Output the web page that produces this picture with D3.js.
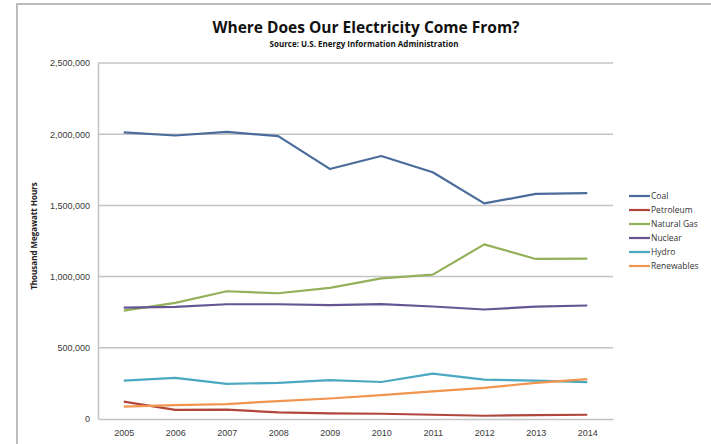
<!DOCTYPE html>
<html>
<head>
<meta charset="utf-8">
<script src="https://cdn.jsdelivr.net/npm/d3@7"></script>
<style>
  html, body { margin: 0; padding: 0; background: #fff; }
  svg { display: block; font-family: "Open Sans", "Liberation Sans", sans-serif; }
</style>
</head>
<body>
<svg id="chart" width="711" height="444"></svg>
<script>
// US net electricity generation by source, thousand MWh
const years = ["2005", "2006", "2007", "2008", "2009", "2010", "2011", "2012", "2013", "2014"];
const coal        = [2013000, 1991000, 2016000, 1986000, 1756000, 1847000, 1733000, 1514000, 1581000, 1586000];
const petroleum   = [122000, 64000, 66000, 46000, 39000, 37000, 30000, 23000, 27000, 30000];
const naturalGas  = [761000, 816000, 897000, 883000, 921000, 988000, 1014000, 1226000, 1124000, 1126000];
const nuclear     = [782000, 787000, 806000, 806000, 799000, 807000, 790000, 769000, 789000, 797000];
const hydro       = [270000, 289000, 247000, 254000, 273000, 260000, 319000, 276000, 269000, 259000];
const renewables  = [87000, 97000, 105000, 126000, 144000, 167000, 194000, 219000, 254000, 280000];
const seriesNames = ["Coal", "Petroleum", "Natural Gas", "Nuclear", "Hydro", "Renewables"];
const seriesColors = ["#4a6c9b", "#b0463c", "#93b05a", "#655592", "#4aa8c0", "#f0944e"];
const yTicks = [0, 500000, 1000000, 1500000, 2000000, 2500000];

const seriesValues = [coal, petroleum, naturalGas, nuclear, hydro, renewables];
const series = seriesNames.map((name, i) => ({ name, color: seriesColors[i], values: seriesValues[i] }));

const svg = d3.select("#chart");
const plot = { left: 98, right: 613, top: 63, bottom: 419 };

// outer frame
svg.append("path")
  .attr("d", "M17,446 L17,4 L713,4")
  .attr("fill", "none")
  .attr("stroke", "#bdbdbd")
  .attr("stroke-width", 2);

const x = d3.scalePoint().domain(years).range([plot.left, plot.right]).padding(0.5);
const y = d3.scaleLinear().domain([0, 2500000]).range([plot.bottom, plot.top]);

// horizontal gridlines
svg.append("g")
  .selectAll("line")
  .data(yTicks.filter(d => d > 0))
  .join("line")
  .attr("x1", plot.left).attr("x2", plot.right)
  .attr("y1", d => y(d)).attr("y2", d => y(d))
  .attr("stroke", "#c4c4c4")
  .attr("stroke-width", 1.5);

// y axis
const yAxis = svg.append("g")
  .attr("transform", `translate(${plot.left},0)`)
  .call(d3.axisLeft(y).tickValues(yTicks).tickSize(0).tickPadding(8)
    .tickFormat(d3.format(",")));
yAxis.select(".domain").attr("stroke", "#c4c4c4").attr("stroke-width", 1.5);
yAxis.selectAll("text").attr("font-size", 9).attr("fill", "#3a3a3a");

// x axis
const xAxis = svg.append("g")
  .attr("transform", `translate(0,${plot.bottom})`)
  .call(d3.axisBottom(x).tickSize(0).tickPadding(11));
xAxis.select(".domain").attr("stroke", "#c4c4c4").attr("stroke-width", 1.5);
xAxis.selectAll("text").attr("font-size", 9).attr("fill", "#3a3a3a");

// series lines
const line = d3.line()
  .x((d, i) => x(years[i]))
  .y(d => y(d));

svg.append("g")
  .selectAll("path")
  .data(series)
  .join("path")
  .attr("d", d => line(d.values))
  .attr("fill", "none")
  .attr("stroke", d => d.color)
  .attr("stroke-width", 2.2)
  .attr("stroke-linejoin", "round");

// title
svg.append("text")
  .attr("x", 366).attr("y", 33)
  .attr("text-anchor", "middle")
  .attr("font-size", 15.5).attr("font-weight", "bold").attr("fill", "#111")
  .text("Where Does Our Electricity Come From?");
svg.append("text")
  .attr("x", 364).attr("y", 47)
  .attr("text-anchor", "middle")
  .attr("font-size", 8).attr("font-weight", "bold").attr("fill", "#111")
  .text("Source: U.S. Energy Information Administration");

// y axis title
svg.append("text")
  .attr("transform", "translate(37,236) rotate(-90)")
  .attr("text-anchor", "middle")
  .attr("font-size", 8).attr("font-weight", "bold").attr("fill", "#222")
  .text("Thousand Megawatt Hours");

// legend
const legend = svg.append("g")
  .selectAll("g")
  .data(series)
  .join("g")
  .attr("transform", (d, i) => `translate(629,${196 + i * 14})`);
legend.append("line")
  .attr("x1", 0).attr("x2", 21)
  .attr("stroke", d => d.color)
  .attr("stroke-width", 2.2);
legend.append("text")
  .attr("x", 22).attr("dy", "0.35em")
  .attr("font-size", 8.5).attr("fill", "#333")
  .text(d => d.name);
</script>
</body>
</html>
